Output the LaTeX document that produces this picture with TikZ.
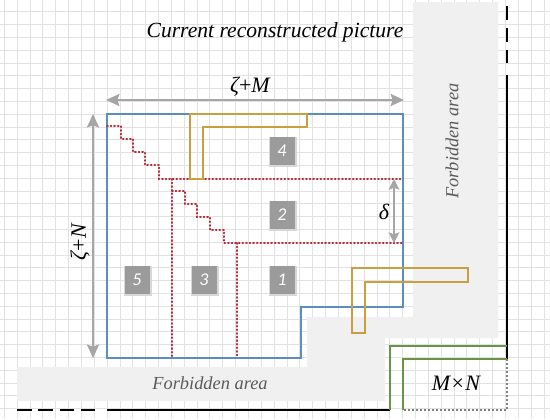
\documentclass[tikz,border=0pt]{standalone}
\usepackage{fontspec}
\setmainfont{Liberation Serif}
\newfontfamily\numfont{Carlito}
\usetikzlibrary{arrows.meta}
\definecolor{gridc}{HTML}{E2E2E2}
\definecolor{forbid}{HTML}{F0F0F0}
\definecolor{forbidtext}{HTML}{5A5A5A}
\definecolor{arrowgray}{HTML}{A6A6A6}
\definecolor{boxgray}{HTML}{9B9B9B}
\definecolor{shadowc}{HTML}{D8D8D8}
\definecolor{bluec}{HTML}{5B8DBE}
\definecolor{goldc}{HTML}{C9A040}
\definecolor{greenc}{HTML}{6A9445}
\definecolor{redc}{HTML}{B42A38}
\tikzset{
  gridline/.style={draw=gridc, line width=0.5pt},
  dimarrow/.style={draw=arrowgray, line width=1.9pt, {Stealth[length=10pt,width=9pt,inset=1.5pt]}-{Stealth[length=10pt,width=9pt,inset=1.5pt]}},
  smallarrow/.style={draw=arrowgray, line width=1.8pt, {Stealth[length=8pt,width=8pt,inset=1.5pt]}-{Stealth[length=8pt,width=8pt,inset=1.5pt]}},
  numbox/.style={fill=boxgray, minimum width=18.75pt, minimum height=21pt, inner sep=0pt, text=white, font=\numfont\itshape\fontsize{13.5}{14}\selectfont},
  numshadow/.style={fill=shadowc, minimum width=20.5pt, minimum height=22.5pt, inner sep=0pt},
  redline/.style={draw=redc, line width=1.5pt, line cap=round, dash pattern=on 0.6pt off 2.1pt},
  blueline/.style={draw=bluec, line width=1.2pt},
  goldline/.style={draw=goldc, line width=1.5pt},
  greenline/.style={draw=greenc, line width=1.5pt},
  blackline/.style={draw=black, line width=1.3pt},
  forbidlabel/.style={text=forbidtext, font=\itshape\fontsize{13.8}{14}\selectfont, inner sep=0pt},
  mathlabel/.style={font=\fontsize{16.5}{16.5}\selectfont, inner sep=0pt}
}
\begin{document}
\begin{tikzpicture}[x=0.75pt,y=-0.75pt]
\useasboundingbox (0,0) rectangle (550,419);
% grid
\foreach \i in {0,...,42} \draw[gridline] ({4.2+12.85*\i},0) -- ({4.2+12.85*\i},419);
\foreach \j in {0,...,31} \draw[gridline] (0,{11.7+12.8*\j}) -- (550,{11.7+12.8*\j});
% forbidden area
\fill[forbid] (413,2) -- (498,2) -- (498,338) -- (385,338) -- (385,401) -- (17,401) -- (17,367) -- (307,367) -- (307,317) -- (413,317) -- cycle;
\node[forbidlabel] (fbottom) at (210,383) {Forbidden area};
\node[forbidlabel, rotate=90] (fright) at (452,141) {Forbidden area};
% title
\node[font=\itshape\fontsize{16.2}{18}\selectfont, inner sep=0pt] (title) at (275,32) {Current reconstructed picture};
% boundary lines
\coordinate (vtop) at (507,6);
\coordinate (vdashend) at (507,63);
\coordinate (vsolid) at (507,75);
\coordinate (gcorner1) at (507,346);
\coordinate (gcorner2) at (507,359);
\coordinate (bl) at (17,410);
\coordinate (bdashend) at (95,410);
\coordinate (bsolid) at (107,410);
\coordinate (g1) at (390,410);
\coordinate (g2) at (403,410);
\coordinate (br) at (507,410);
\draw[blackline, dash pattern=on 10.5pt off 6pt] (vtop) -- (vdashend);
\draw[blackline] (vsolid) -- (gcorner2);
\draw[blackline, dash pattern=on 11pt off 5pt] (bl) -- (bdashend);
\draw[blackline] (bsolid) -- (g1);
\draw[greenline] (g1) -- (390,346) -- (gcorner1);
\draw[greenline] (g2) -- (403,359) -- (gcorner2);
\draw[draw=gray, line width=0.9pt, dash pattern=on 1.5pt off 1.5pt] (gcorner2) -- (br) -- (g2);
\node[mathlabel] (mn) at (456,383) {\itshape M\kern1pt\upshape×\kern1pt\itshape N};
% blue region
\draw[blueline] (107,114) -- (403,114) -- (403,307) -- (301,307) -- (301,358) -- (107,358) -- cycle;
% red dotted staircases
\draw[redline] (107,126) -- (121,126) -- (121,139) -- (133,139) -- (133,152) -- (145,152) -- (145,165) -- (159,165) -- (159,179) -- (403,179);
\draw[redline] (172,179) -- (172,358);
\draw[redline] (172,191) -- (185,191) -- (185,204) -- (197,204) -- (197,217) -- (210,217) -- (210,230) -- (224,230) -- (224,243) -- (237,243) -- (403,243);
\draw[redline] (237,243) -- (237,358);
% gold L shapes
\draw[goldline] (190,114) -- (307,114) -- (307,127) -- (203,127) -- (203,179) -- (190,179) -- cycle;
\draw[goldline] (352,268) -- (468,268) -- (468,282) -- (365,282) -- (365,333) -- (352,333) -- cycle;
% number boxes
\foreach \bx/\by/\n in {282/151/4, 282/215/2, 137/280/5, 204/280/3, 282/280/1}
  \node[numshadow] (s\n) at (\bx+1,\by+1) {};
\node[numbox] (n4) at (282,151) {4};
\node[numbox] (n2) at (282,215) {2};
\node[numbox] (n5) at (137,280) {5};
\node[numbox] (n3) at (204,280) {3};
\node[numbox] (n1) at (282,280) {1};
% dimension arrows
\coordinate (mleft) at (106,100);
\coordinate (mright) at (404,100);
\draw[dimarrow] (mleft) -- (mright);
\node[mathlabel] (zm) at (250,87) {\itshape ζ\upshape+\itshape M};
\coordinate (ntop) at (93,114);
\coordinate (nbot) at (93,358);
\draw[dimarrow] (ntop) -- (nbot);
\node[mathlabel, rotate=90] (zn) at (80,242) {\itshape ζ\upshape+\itshape N};
\coordinate (dtop) at (394,179);
\coordinate (dbot) at (394,243);
\draw[smallarrow] (dtop) -- (dbot);
\node[mathlabel] (delta) at (384,212) {\itshape δ};
\end{tikzpicture}
\end{document}
